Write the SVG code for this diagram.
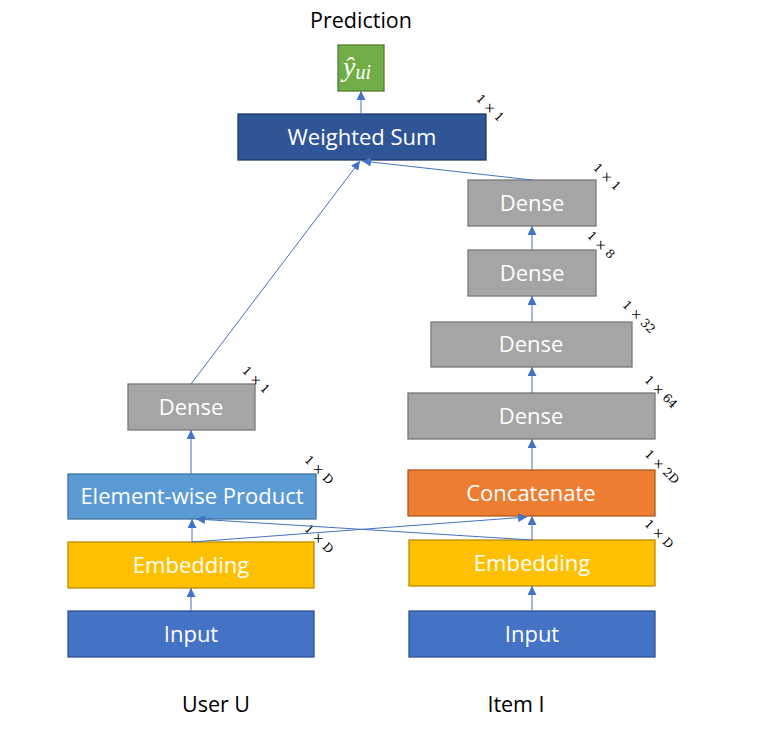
<svg xmlns="http://www.w3.org/2000/svg" width="761" height="736" viewBox="0 0 761 736">
<defs>
<marker id="arr" markerUnits="userSpaceOnUse" markerWidth="10" markerHeight="9" refX="9" refY="4.5" orient="auto">
<path d="M0,0 L9,4.5 L0,9 z" fill="#4472C4"/>
</marker>
<style>
.lbl{font-family:"Open Sans","Noto Sans",sans-serif;font-size:22px;fill:#fff;text-anchor:middle}
.cap{font-family:"Open Sans","Noto Sans",sans-serif;font-size:21.5px;fill:#000;text-anchor:middle}
.dim{font-family:"DejaVu Serif","Liberation Serif",serif;font-size:12px;fill:#000;text-anchor:middle}
.dense rect{fill:#A5A5A5;stroke:#787878;stroke-width:1.3}
.emb rect{fill:#FFC000;stroke:#BC8C00;stroke-width:1.3}
.inp rect{fill:#4472C4;stroke:#2F528F;stroke-width:1.3}
.con line{stroke:#4472C4;stroke-width:1;marker-end:url(#arr)}
</style>
</defs>
<rect width="761" height="736" fill="#fff"/>
<text class="cap" x="361" y="28">Prediction</text>
<text class="cap" x="216" y="712">User U</text>
<text class="cap" x="516" y="712">Item I</text>

<g id="pred">
<rect x="338" y="45" width="46" height="46" fill="#70AD47" stroke="#507E32" stroke-width="1.3"/>
<text x="343" y="76" font-family="Liberation Serif,DejaVu Serif,serif" font-style="italic" font-size="28" fill="#fff">ŷ<tspan font-size="20" dy="3">ui</tspan></text>
</g>
<g id="wsum">
<rect x="238" y="114" width="248" height="46" fill="#2F5597" stroke="#203864" stroke-width="1.3"/>
<text class="lbl" x="362" y="145">Weighted Sum</text>
<text class="dim" transform="translate(490,108) rotate(45)" y="4">1 × 1</text>
</g>
<g id="dense1" class="dense">
<rect x="468" y="180" width="128" height="46"/>
<text class="lbl" x="532" y="211">Dense</text>
<text class="dim" transform="translate(607,177) rotate(45)" y="4">1 × 1</text>
</g>
<g id="dense2" class="dense">
<rect x="468" y="250" width="128" height="46"/>
<text class="lbl" x="532" y="281">Dense</text>
<text class="dim" transform="translate(601,245) rotate(45)" y="4">1 × 8</text>
</g>
<g id="dense3" class="dense">
<rect x="431" y="322" width="201" height="45"/>
<text class="lbl" x="531" y="352">Dense</text>
<text class="dim" transform="translate(639,317) rotate(45)" y="4">1 × 32</text>
</g>
<g id="dense4" class="dense">
<rect x="408" y="393" width="247" height="46"/>
<text class="lbl" x="531" y="424">Dense</text>
<text class="dim" transform="translate(661,392) rotate(45)" y="4">1 × 64</text>
</g>
<g id="concat">
<rect x="408" y="470" width="247" height="46" fill="#ED7D31" stroke="#AE5A21" stroke-width="1.3"/>
<text class="lbl" x="531" y="501">Concatenate</text>
<text class="dim" transform="translate(662,467) rotate(45)" y="4">1 × 2D</text>
</g>
<g id="embR" class="emb">
<rect x="409" y="540" width="246" height="46"/>
<text class="lbl" x="532" y="571">Embedding</text>
<text class="dim" transform="translate(659,534) rotate(45)" y="4">1 × D</text>
</g>
<g id="inpR" class="inp">
<rect x="409" y="611" width="246" height="46"/>
<text class="lbl" x="532" y="642">Input</text>
</g>
<g id="inpL" class="inp">
<rect x="68" y="611" width="246" height="46"/>
<text class="lbl" x="191" y="642">Input</text>
</g>
<g id="embL" class="emb">
<rect x="68" y="542" width="246" height="46"/>
<text class="lbl" x="191" y="573">Embedding</text>
<text class="dim" transform="translate(319,539) rotate(45)" y="4">1 × D</text>
</g>
<g id="ewp">
<rect x="68" y="474" width="248" height="45" fill="#5B9BD5" stroke="#41719C" stroke-width="1.3"/>
<text class="lbl" x="192" y="504">Element-wise Product</text>
<text class="dim" transform="translate(319,470) rotate(45)" y="4">1 × D</text>
</g>
<g id="denseL" class="dense">
<rect x="128" y="384" width="127" height="46"/>
<text class="lbl" x="191" y="415">Dense</text>
<text class="dim" transform="translate(256,380) rotate(45)" y="4">1 × 1</text>
</g>

<g id="connectors" class="con">
<line x1="361" y1="114" x2="361" y2="91"/>
<line x1="191" y1="384" x2="360" y2="161"/>
<line x1="532" y1="180" x2="362" y2="161"/>
<line x1="532" y1="250" x2="532" y2="226"/>
<line x1="532" y1="322" x2="532" y2="296"/>
<line x1="532" y1="393" x2="532" y2="367"/>
<line x1="532" y1="470" x2="532" y2="439"/>
<line x1="532" y1="540" x2="532" y2="516"/>
<line x1="192" y1="542" x2="527" y2="517"/>
<line x1="532" y1="540" x2="196" y2="519"/>
<line x1="192" y1="542" x2="192" y2="519"/>
<line x1="191" y1="611" x2="191" y2="588"/>
<line x1="532" y1="611" x2="532" y2="586"/>
<line x1="191" y1="474" x2="191" y2="430"/>
</g>
</svg>
